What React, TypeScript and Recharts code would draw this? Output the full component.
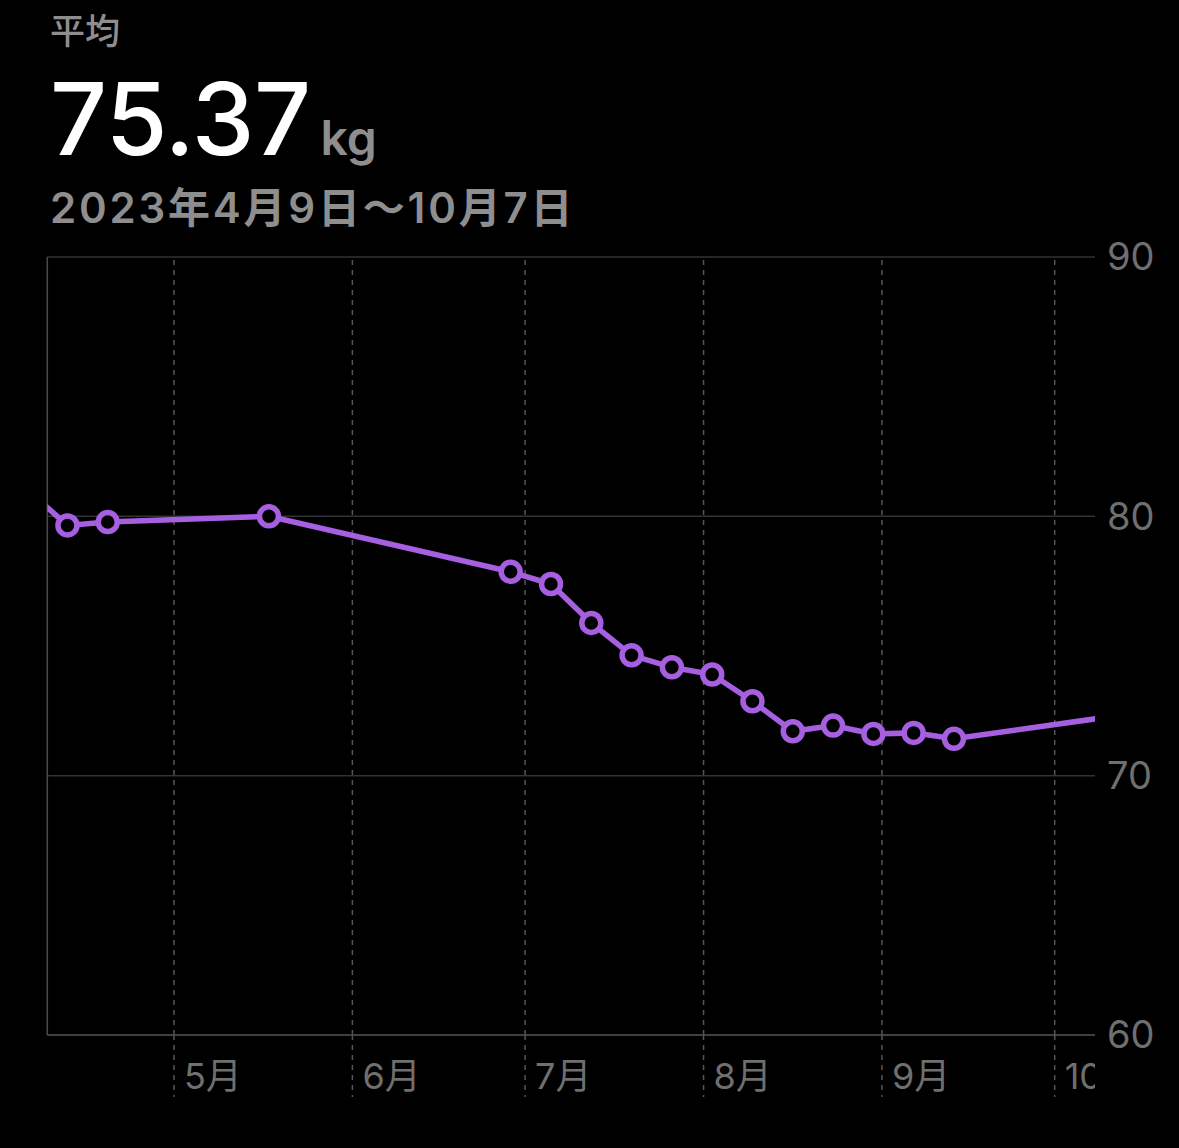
import React from 'react';
import { LineChart, Line, XAxis, YAxis, CartesianGrid, ReferenceLine } from 'recharts';

// weekly averages, week 0 is centred on 4/12 (day 3.5 after 4/9)
const weekIndex = [-1, 0, 1, 5, 11, 12, 13, 14, 15, 16, 17, 18, 19, 20, 21, 22, 26];
const weights = [81.03, 79.65, 79.78, 80.0, 77.86, 77.39, 75.89, 74.64, 74.18, 73.9, 72.87, 71.71, 71.93, 71.61, 71.65, 71.42, 72.3];

// days since 4/9 for the first of each month
const monthDays = [22, 53, 83, 114, 145, 175];
const monthLabels = ['5月', '6月', '7月', '8月', '9月', '10月'];
const weightTicks = [60, 70, 80, 90];

const data = weekIndex.map((w, i) => ({ day: 3.5 + w * 7, kg: weights[i] }));

const W = 1179;
const H = 1148;
const PLOT_RIGHT = 1095;
const PURPLE = '#a55fe0';
const FONT = "Inter, 'Noto Sans CJK JP', sans-serif";

const MonthTick = (props: any) => {
    const { x, y, payload } = props;
    const idx = monthDays.indexOf(payload.value);
    const clipW = Math.max(0, PLOT_RIGHT - x);
    return (
        <g>
            <line x1={x} x2={x} y1={y} y2={y + 62} stroke="#555" strokeWidth={1.5} strokeDasharray="5 5" />
            <svg x={x} y={y} width={clipW} height={70} overflow="hidden">
                <text x={10} y={54} fill="#6f6f6f" fontSize={36} fontFamily={FONT}>
                    {monthLabels[idx]}
                </text>
            </svg>
        </g>
    );
};

export default function App() {
    return (
        <div style={{ position: 'absolute', left: 0, top: 0, width: W, height: H, background: '#000', fontFamily: FONT }}>
            <div style={{ position: 'absolute', left: 50, top: 14, fontSize: 35, lineHeight: 1, color: '#8e8e8e', fontWeight: 500 }}>
                平均
            </div>
            <div style={{ position: 'absolute', left: 50, top: 69, lineHeight: 1, whiteSpace: 'nowrap' }}>
                <span style={{ fontSize: 100, color: '#fff', fontWeight: 500, letterSpacing: -0.5 }}>75.37</span>
                <span style={{ fontSize: 48, color: '#8e8e8e', fontWeight: 600, marginLeft: 10 }}>kg</span>
            </div>
            <div style={{ position: 'absolute', left: 50, top: 187, fontSize: 42, lineHeight: 1, color: '#8e8e8e', fontWeight: 600, letterSpacing: 2.8, whiteSpace: 'nowrap' }}>
                2023年4月9日〜10月7日
            </div>
            <LineChart width={W} height={H} data={data} margin={{ top: 257, right: 0, bottom: 0, left: 47.3 }}>
                <CartesianGrid vertical={false} stroke="#333" strokeWidth={1.5} />
                {monthDays.map((d) => (
                    <ReferenceLine key={d} x={d} stroke="#555" strokeWidth={1.5} strokeDasharray="5 5" />
                ))}
                <ReferenceLine x={0} stroke="#4a4a4a" strokeWidth={1.5} />
                <XAxis
                    dataKey="day"
                    type="number"
                    domain={[0, 182]}
                    allowDataOverflow
                    ticks={monthDays}
                    interval={0}
                    height={113}
                    tickSize={0}
                    tickMargin={0}
                    axisLine={{ stroke: '#4a4a4a', strokeWidth: 1.5 }}
                    tickLine={false}
                    tick={<MonthTick />}
                />
                <YAxis
                    orientation="right"
                    type="number"
                    domain={[60, 90]}
                    ticks={weightTicks}
                    width={84}
                    axisLine={false}
                    tickLine={false}
                    tickSize={0}
                    tickMargin={12}
                    tick={{ fill: '#6f6f6f', fontSize: 38, fontFamily: FONT, textAnchor: 'start' }}
                />
                <Line
                    type="linear"
                    dataKey="kg"
                    stroke={PURPLE}
                    strokeWidth={5.5}
                    dot={{ r: 9.5, stroke: PURPLE, strokeWidth: 5.5, fill: '#000' }}
                    activeDot={false}
                    isAnimationActive={false}
                />
            </LineChart>
        </div>
    );
}
